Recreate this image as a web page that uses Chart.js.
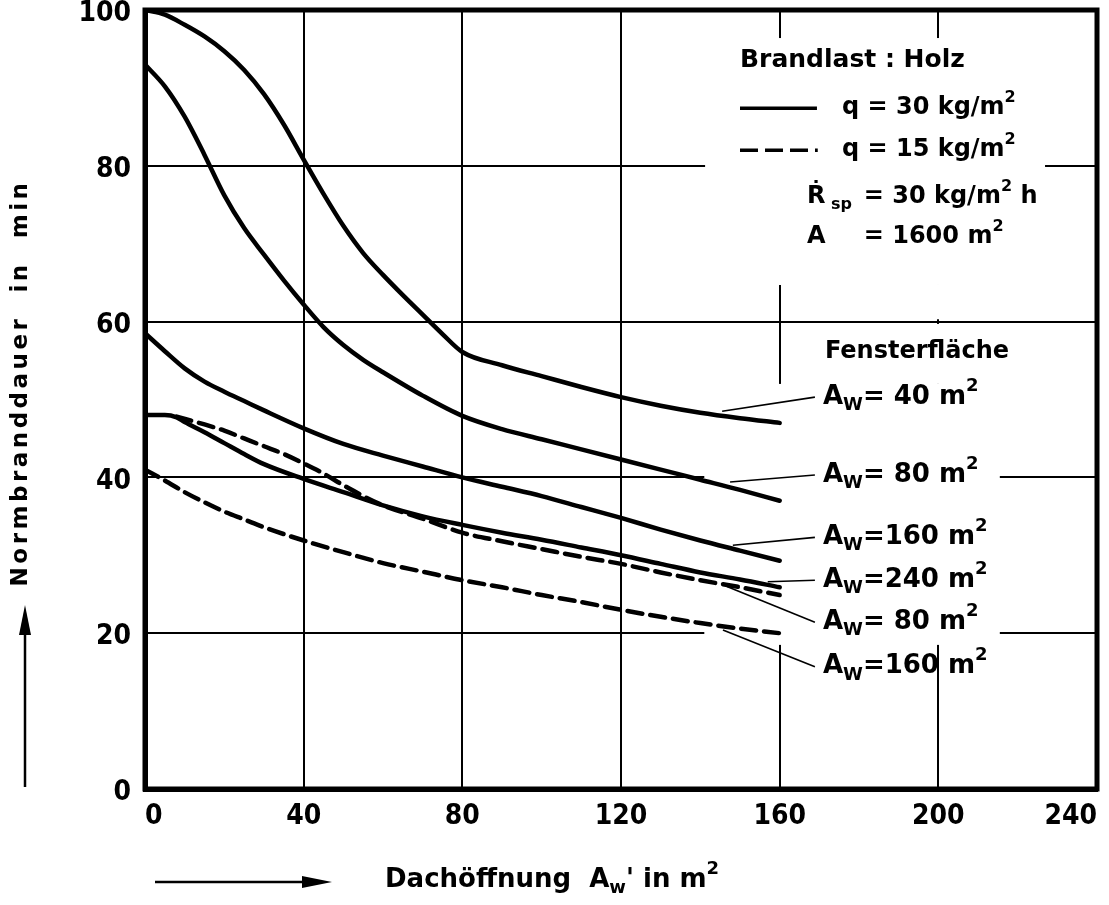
<!DOCTYPE html>
<html>
<head>
<meta charset="utf-8">
<script src="https://cdn.jsdelivr.net/npm/chart.js@4.4.1/dist/chart.umd.min.js"></script>
<style>
  html, body { margin: 0; padding: 0; background: #fff; }
</style>
</head>
<body>
<canvas id="chart" width="1109" height="905"></canvas>
<script>
const TICK_FONT = '"Liberation Sans Narrow", "DejaVu Sans Condensed", "DejaVu Sans", sans-serif';
const TEXT_FONT = '"DejaVu Sans", sans-serif';

// Dachöffnung A_w' (m²) -> Normbranddauer (min)
// q = 30 kg/m² (solid)
const xAw40 = [0, 5, 10, 15, 20, 25, 30, 35, 40, 45, 50, 55, 60, 65, 70, 75, 80, 90, 100, 110, 120, 130, 140, 150, 160];
const yAw40 = [100, 99.4, 98.1, 96.6, 94.7, 92.3, 89.2, 85.3, 80.8, 76.4, 72.3, 68.8, 66, 63.4, 60.9, 58.4, 56.1, 54.4, 53, 51.6, 50.3, 49.2, 48.3, 47.6, 47];

const xAw80 = [0, 5, 10, 15, 20, 25, 30, 35, 40, 45, 50, 55, 60, 70, 80, 90, 100, 110, 120, 130, 140, 150, 160];
const yAw80 = [93, 90.2, 86.3, 81.4, 76.2, 72, 68.6, 65.3, 62.2, 59.3, 57, 55.1, 53.5, 50.5, 47.9, 46.2, 44.9, 43.6, 42.3, 41, 39.7, 38.4, 37];

const xAw160 = [0, 5, 10, 15, 20, 25, 30, 40, 50, 60, 70, 80, 90, 100, 110, 120, 130, 140, 150, 160];
const yAw160 = [58.5, 56.2, 54, 52.3, 51, 49.8, 48.6, 46.3, 44.3, 42.8, 41.4, 40, 38.8, 37.6, 36.2, 34.8, 33.3, 31.9, 30.6, 29.3];

const xAw240 = [0, 5, 8, 10, 15, 20, 25, 30, 40, 50, 60, 70, 80, 90, 100, 110, 120, 130, 140, 150, 160];
const yAw240 = [48, 48, 47.7, 47.1, 45.8, 44.4, 43, 41.7, 39.8, 38.1, 36.4, 35, 33.9, 32.9, 32, 31, 30, 28.9, 27.8, 26.9, 25.9];

// q = 15 kg/m² (dashed)
const xAw80q15 = [8, 15, 20, 25, 30, 35, 40, 45, 50, 55, 60, 70, 80, 90, 100, 110, 120, 130, 140, 150, 160];
const yAw80q15 = [47.8, 46.8, 46, 45, 44, 43, 41.8, 40.5, 39, 37.6, 36.4, 34.7, 32.9, 31.8, 30.8, 29.8, 28.9, 27.8, 26.8, 25.9, 24.9];

const xAw160q15 = [0, 5, 10, 15, 20, 25, 30, 40, 50, 60, 70, 80, 90, 100, 110, 120, 130, 140, 150, 160];
const yAw160q15 = [41, 39.6, 38.1, 36.8, 35.6, 34.6, 33.6, 31.9, 30.4, 29, 27.9, 26.8, 25.9, 24.9, 24, 23, 22.1, 21.3, 20.6, 20];

// curve labels (Fensterfläche) with the leader line's end on the curve
const curveLabels = [
  { text: '= 40 m', at: [170.9, 50.3], to: [145.5, 48.5] },
  { text: '= 80 m', at: [170.9, 40.3], to: [147.5, 39.4] },
  { text: '=160 m', at: [170.9, 32.3], to: [148.2, 31.3] },
  { text: '=240 m', at: [170.9, 26.8], to: [157, 26.6] },
  { text: '= 80 m', at: [170.9, 21.4], to: [146.7, 26.0] },
  { text: '=160 m', at: [170.9, 15.7], to: [145.7, 20.4] }
];

const xTicks = [0, 40, 80, 120, 160, 200, 240];
const yTicks = [0, 20, 40, 60, 80, 100];

function pts(xs, ys) {
  return xs.map((x, i) => ({ x: x, y: ys[i] }));
}

function curve(xs, ys, dashed) {
  return {
    data: pts(xs, ys),
    borderColor: '#000',
    borderWidth: 4.5,
    borderDash: dashed ? [15, 8] : [],
    borderCapStyle: 'round',
    pointRadius: 0,
    cubicInterpolationMode: 'monotone',
    fill: false
  };
}

// text made of normal / sub / sup pieces, y = middle of the normal text
function drawRich(ctx, parts, x, y, size) {
  ctx.textBaseline = 'middle';
  ctx.textAlign = 'left';
  let cx = x;
  parts.forEach(([t, m]) => {
    const s = m ? Math.round(size * 0.68) : size;
    const dy = m === 'sub' ? size * 0.32 : (m === 'sup' ? -size * 0.42 : 0);
    ctx.font = 'bold ' + s + 'px ' + TEXT_FONT;
    ctx.fillText(t, cx, y + dy);
    cx += ctx.measureText(t).width;
  });
  return cx;
}

function arrow(ctx, x1, y1, x2, y2) {
  const ang = Math.atan2(y2 - y1, x2 - x1);
  const len = 30, half = 6;
  const bx = x2 - Math.cos(ang) * len, by = y2 - Math.sin(ang) * len;
  ctx.lineWidth = 2.5;
  ctx.beginPath();
  ctx.moveTo(x1, y1);
  ctx.lineTo(bx, by);
  ctx.stroke();
  ctx.beginPath();
  ctx.moveTo(x2, y2);
  ctx.lineTo(bx - Math.sin(ang) * half, by + Math.cos(ang) * half);
  ctx.lineTo(bx + Math.sin(ang) * half, by - Math.cos(ang) * half);
  ctx.closePath();
  ctx.fill();
}

// white areas behind the texts (the grid is broken there in the original)
const blanks = [
  [141.2, 226.9, 96.4, 64.7],
  [190, 215, 64.7, 60.3],
  [163, 215.5, 59.7, 52],
  [141, 215.5, 52, 18.5]
];

const figurePlugin = {
  id: 'figure',
  beforeDatasetsDraw(chart) {
    const ctx = chart.ctx, sx = chart.scales.x, sy = chart.scales.y;
    ctx.save();
    ctx.fillStyle = '#fff';
    blanks.forEach(([x0, x1, y0, y1]) => {
      const px0 = sx.getPixelForValue(x0), px1 = sx.getPixelForValue(x1);
      const py0 = sy.getPixelForValue(y0), py1 = sy.getPixelForValue(y1);
      ctx.fillRect(px0, py0, px1 - px0, py1 - py0);
    });
    ctx.restore();
  },
  afterDatasetsDraw(chart) {
    const ctx = chart.ctx, a = chart.chartArea;
    const sx = chart.scales.x, sy = chart.scales.y;
    const X = v => sx.getPixelForValue(v), Y = v => sy.getPixelForValue(v);
    ctx.save();
    ctx.strokeStyle = '#000';
    ctx.fillStyle = '#000';

    // frame
    ctx.lineWidth = 5;
    ctx.strokeRect(a.left, a.top, a.right - a.left, a.bottom - a.top);

    // legend block
    const fs = 24;
    drawRich(ctx, [['Brandlast : Holz', '']], X(150), Y(93.5), 25);
    ctx.lineWidth = 3.5;
    ctx.setLineDash([]);
    ctx.beginPath(); ctx.moveTo(X(150), Y(87.4)); ctx.lineTo(X(169.4), Y(87.4)); ctx.stroke();
    ctx.setLineDash([18, 7]);
    ctx.beginPath(); ctx.moveTo(X(150), Y(82)); ctx.lineTo(X(169.6), Y(82)); ctx.stroke();
    ctx.setLineDash([]);
    drawRich(ctx, [['q = 30 kg/m', ''], ['2', 'sup']], X(175.7), Y(87.4), fs);
    drawRich(ctx, [['q = 15 kg/m', ''], ['2', 'sup']], X(175.7), Y(82), fs);
    drawRich(ctx, [['Ṙ', ''], [' sp', 'sub']], X(166.9), Y(76), fs);
    drawRich(ctx, [['= 30 kg/m', ''], ['2', 'sup'], [' h', '']], X(181.2), Y(76), fs);
    drawRich(ctx, [['A', '']], X(166.9), Y(70.9), fs);
    drawRich(ctx, [['= 1600 m', ''], ['2', 'sup']], X(181.2), Y(70.9), fs);

    // curve labels
    drawRich(ctx, [['Fensterfläche', '']], X(171.4), Y(56.1), fs);
    ctx.lineWidth = 1.6;
    curveLabels.forEach(l => {
      ctx.beginPath();
      ctx.moveTo(X(l.at[0]) - 8, Y(l.at[1]));
      ctx.lineTo(X(l.to[0]), Y(l.to[1]));
      ctx.stroke();
      drawRich(ctx, [['A', ''], ['W', 'sub'], [l.text, ''], ['2', 'sup']], X(l.at[0]), Y(l.at[1]), 26);
    });

    // y title with arrow
    ctx.save();
    ctx.translate(21, 383);
    ctx.rotate(-Math.PI / 2);
    ctx.letterSpacing = '3.5px';
    ctx.font = 'bold 23px ' + TEXT_FONT;
    ctx.textAlign = 'center';
    ctx.textBaseline = 'middle';
    ctx.fillText('Normbranddauer  in  min', 0, 0);
    ctx.restore();
    arrow(ctx, 25, 787, 25, 605);

    // x title with arrow
    arrow(ctx, 155, 882, 332, 882);
    drawRich(ctx, [['Dachöffnung  A', ''], ['w', 'sub'], ["' in m", ''], ['2', 'sup']], 385, 880, 26);

    ctx.restore();
  }
};

new Chart(document.getElementById('chart'), {
  type: 'line',
  data: {
    datasets: [
      curve(xAw40, yAw40, false),
      curve(xAw80, yAw80, false),
      curve(xAw160, yAw160, false),
      curve(xAw240, yAw240, false),
      curve(xAw80q15, yAw80q15, true),
      curve(xAw160q15, yAw160q15, true)
    ]
  },
  options: {
    responsive: false,
    animation: false,
    layout: { padding: { top: 10, right: 12, left: 0, bottom: 0 } },
    plugins: { legend: { display: false }, tooltip: { enabled: false } },
    scales: {
      x: {
        type: 'linear',
        min: 0,
        max: 240,
        afterBuildTicks: s => { s.ticks = xTicks.map(v => ({ value: v })); },
        afterFit: s => { s.height = 116; s.paddingLeft = 0; s.paddingRight = 0; },
        grid: { color: '#000', lineWidth: 2, drawTicks: false },
        border: { color: '#000', width: 5 },
        ticks: {
          align: 'inner',
          padding: 11,
          color: '#000',
          font: { family: TICK_FONT, size: 28, weight: 'bold' }
        }
      },
      y: {
        type: 'linear',
        min: 0,
        max: 100,
        afterBuildTicks: s => { s.ticks = yTicks.map(v => ({ value: v })); },
        afterFit: s => { s.width = 145; s.paddingTop = 0; s.paddingBottom = 0; },
        grid: { color: '#000', lineWidth: 2, drawTicks: false },
        border: { color: '#000', width: 5 },
        ticks: {
          padding: 14,
          labelOffset: 4,
          color: '#000',
          font: { family: TICK_FONT, size: 28, weight: 'bold' }
        }
      }
    }
  },
  plugins: [figurePlugin]
});
</script>
</body>
</html>
